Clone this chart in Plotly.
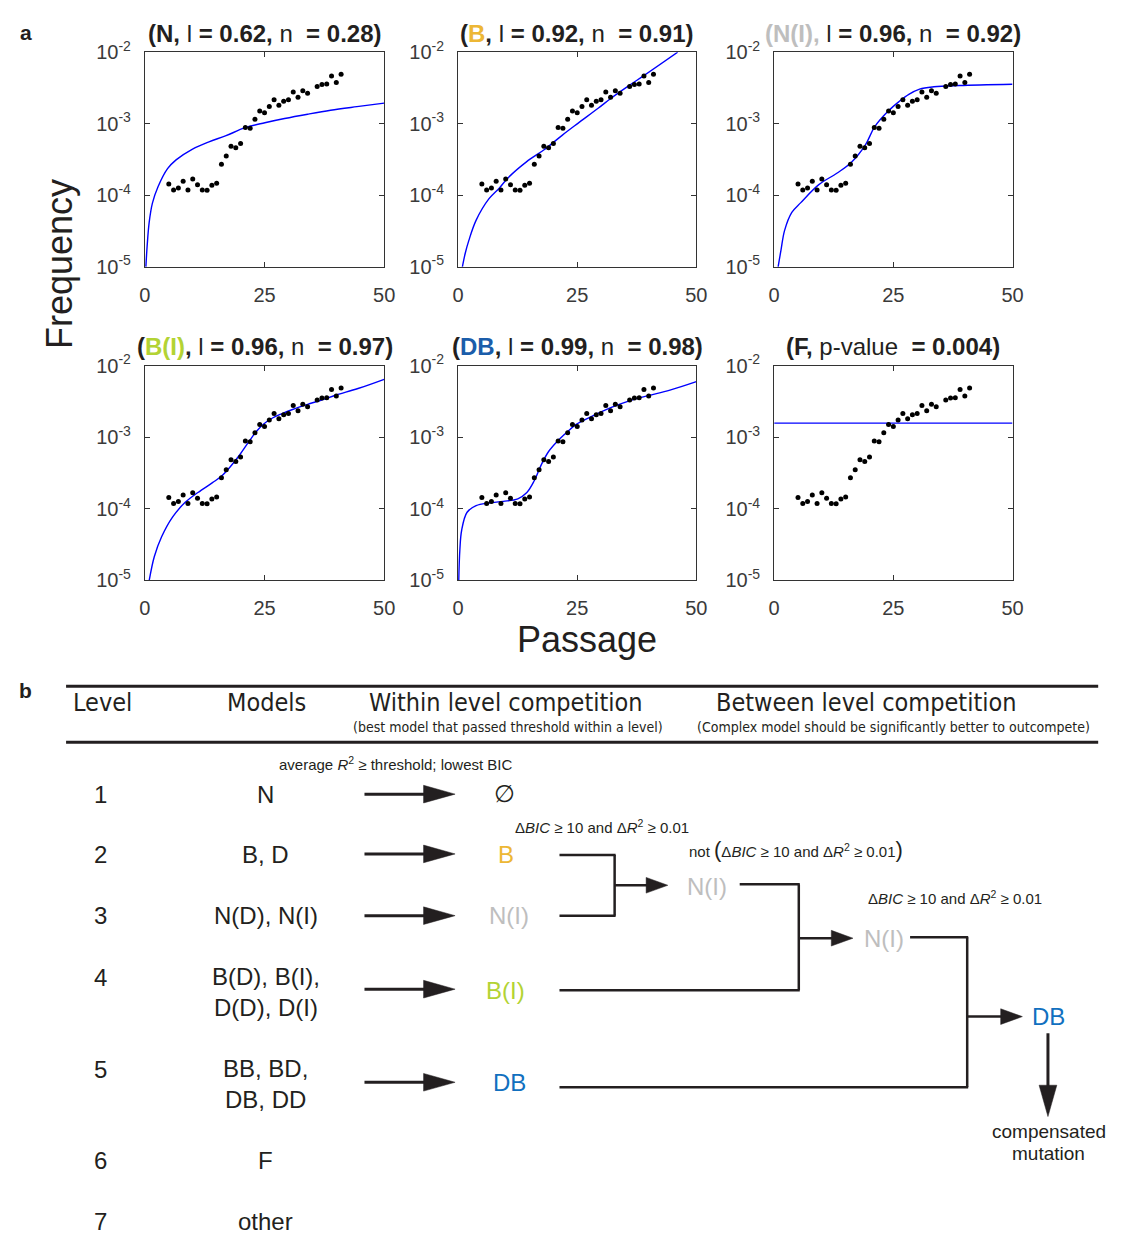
import plotly.graph_objects as go

W, H = 1121, 1254

# ---------------- data ----------------
passage = [5, 6, 7, 8, 9, 10, 11, 12, 13, 14, 15, 16, 17, 18, 19, 20, 21, 22, 23, 24,
           25, 26, 27, 28, 29, 30, 31, 32, 33, 34, 36, 37, 38, 39, 40, 41]
frequency = [1.44e-4, 1.19e-4, 1.27e-4, 1.57e-4, 1.19e-4, 1.69e-4, 1.41e-4, 1.19e-4,
             1.18e-4, 1.38e-4, 1.47e-4, 2.72e-4, 3.54e-4, 4.86e-4, 4.61e-4, 5.30e-4,
             8.89e-4, 8.69e-4, 1.16e-3, 1.51e-3, 1.42e-3, 1.75e-3, 2.16e-3, 1.82e-3,
             2.07e-3, 2.16e-3, 2.78e-3, 2.35e-3, 2.90e-3, 2.67e-3, 3.33e-3, 3.55e-3,
             3.59e-3, 4.67e-3, 3.78e-3, 4.92e-3]

# fitted model curves (passage, log10 frequency)
fit_N_x = [0.21, 0.48, 0.89, 1.58, 2.75, 4.74, 6.52, 9.96, 13.39, 16.83, 20.95, 25.07,
           29.19, 34.0, 38.8, 44.3, 50]
fit_N_log10 = [-5.0, -4.706, -4.385, -4.11, -3.881, -3.628, -3.505, -3.353, -3.252,
               -3.17, -3.055, -2.986, -2.927, -2.867, -2.812, -2.761, -2.711]
fit_B_x = [0.91, 1.51, 2.27, 3.78, 6.50, 8.69, 10.57, 14.35, 18.13, 21.9, 25.15, 29.46,
           32.1, 36.0, 39.05, 46.07]
fit_B_log10 = [-5.0, -4.81, -4.63, -4.35, -4.047, -3.897, -3.75, -3.532, -3.359, -3.158,
               -2.994, -2.78, -2.643, -2.46, -2.324, -2.0]
fit_NI_x = [0.83, 1.44, 2.19, 3.70, 5.59, 9.37, 13.14, 16.16, 19.18, 21.07, 24.09, 26.21,
            28.25, 30.51, 33.53, 38.82, 50]
fit_NI_log10 = [-5.0, -4.763, -4.49, -4.239, -4.102, -3.851, -3.692, -3.541, -3.29, -3.044,
                -2.812, -2.689, -2.588, -2.515, -2.483, -2.465, -2.447]
fit_BI_x = [0.91, 1.98, 3.50, 5.78, 8.43, 11.09, 14.13, 16.03, 17.93, 19.83, 21.73, 23.25,
            24.77, 26.67, 28.57, 30.85, 33.89, 36.93, 39.97, 44.53, 50]
fit_BI_log10 = [-5.0, -4.665, -4.39, -4.115, -3.908, -3.771, -3.633, -3.541, -3.404, -3.243,
                -3.06, -2.922, -2.817, -2.729, -2.67, -2.61, -2.541, -2.477, -2.408,
                -2.317, -2.188]
fit_DB_x = [0.15, 0.38, 0.76, 1.90, 3.80, 6.46, 9.50, 12.54, 14.44, 15.96, 17.48, 19.0,
            20.9, 22.8, 24.7, 27.74, 32.3, 36.09, 39.89, 44.45, 50]
fit_DB_log10 = [-5.0, -4.573, -4.298, -4.046, -3.954, -3.917, -3.894, -3.858, -3.771,
                -3.61, -3.381, -3.197, -3.05, -2.931, -2.821, -2.716, -2.578, -2.486,
                -2.417, -2.339, -2.22]
fit_F_x = [0, 50]
fit_F_log10 = [-2.80, -2.80]

y_tickvals = [1e-5, 1e-4, 1e-3, 1e-2]
y_ticktext = ["10<sup>-5</sup>", "10<sup>-4</sup>", "10<sup>-3</sup>", "10<sup>-2</sup>"]
x_tickvals = [0, 25, 50]

C_B = "#EDB735"
C_NI = "#BEBEBE"
C_BI = "#B3D334"
C_DB_T = "#1B5DAA"
C_DB = "#1170BF"
DARK = "#231F20"

panel_titles = [
    "<b>(N, </b>l<b> = 0.62, </b>n<b>&nbsp; = 0.28)</b>",
    "<b>(<span style='color:%s'>B</span>, </b>l<b> = 0.92, </b>n<b>&nbsp; = 0.91)</b>" % C_B,
    "<b><span style='color:%s'>(N(I),</span> </b>l<b> = 0.96, </b>n<b>&nbsp; = 0.92)</b>" % C_NI,
    "<b>(<span style='color:%s'>B(I)</span>, </b>l<b> = 0.96, </b>n<b>&nbsp; = 0.97)</b>" % C_BI,
    "<b>(<span style='color:%s'>DB</span>, </b>l<b> = 0.99, </b>n<b>&nbsp; = 0.98)</b>" % C_DB_T,
    "<b>(F, </b>p-value<b>&nbsp; = 0.004)</b>",
]

# part b text
levels = ["1", "2", "3", "4", "5", "6", "7"]
models = ["N", "B, D", "N(D), N(I)", "B(D), B(I),<br>D(D), D(I)", "BB, BD,<br>DB, DD", "F", "other"]
winners = ["∅", "B", "N(I)", "B(I)", "DB"]
winner_colors = [DARK, C_B, C_NI, C_BI, C_DB]


# ---------------- layout helpers ----------------
def px(x):
    return x / W


def py(y):
    return 1 - y / H


FONT = "Liberation Sans, Arial, Helvetica, sans-serif"
NARROW = "Liberation Sans Narrow, Arial Narrow, DejaVu Sans Condensed, sans-serif"

col_px = [(141, 384), (459, 701), (780, 1022)]
row_px = [(39, 258), (359, 578)]

fits = [(fit_N_x, fit_N_log10), (fit_B_x, fit_B_log10), (fit_NI_x, fit_NI_log10),
        (fit_BI_x, fit_BI_log10), (fit_DB_x, fit_DB_log10), (fit_F_x, fit_F_log10)]

fig = go.Figure()
layout = dict(
    width=W, height=H, autosize=False,
    margin=dict(l=0, r=0, t=0, b=0),
    paper_bgcolor="white", plot_bgcolor="white",
    showlegend=False,
    font=dict(family=FONT, color=DARK),
)
annotations = []
shapes = []

for i in range(6):
    r, c = divmod(i, 3)
    n = i + 1
    xs = "" if n == 1 else str(n)
    x0, x1 = col_px[c]
    y0, y1 = row_px[r]
    layout["xaxis" + xs] = dict(
        domain=[px(x0), px(x1)], anchor="y" + xs, range=[0, 50],
        tickvals=x_tickvals, ticks="inside", ticklen=5, tickcolor="#333",
        showline=True, linecolor="#333", linewidth=1, mirror="ticks",
        showgrid=False, zeroline=False,
        tickfont=dict(size=20, color="#3a3a3a", family=FONT),
        ticklabelstandoff=10,
    )
    layout["yaxis" + xs] = dict(
        domain=[py(y1), py(y0)], anchor="x" + xs, type="log", range=[-5, -2],
        tickvals=y_tickvals, ticktext=y_ticktext, ticks="inside", ticklen=5,
        tickcolor="#333", showline=True, linecolor="#333", linewidth=1, mirror="ticks",
        showgrid=False, zeroline=False,
        tickfont=dict(size=20, color="#3a3a3a", family=FONT),
        ticklabelstandoff=9,
    )
    fx, fl = fits[i]
    fig.add_trace(go.Scatter(
        x=fx, y=[10 ** v for v in fl], mode="lines",
        line=dict(color="#0000FF", width=1.4, shape="spline"),
        xaxis="x" + xs, yaxis="y" + xs, hoverinfo="skip"))
    fig.add_trace(go.Scatter(
        x=passage, y=frequency, mode="markers",
        marker=dict(color="black", size=5),
        xaxis="x" + xs, yaxis="y" + xs))
    ty = 20 if r == 0 else 339
    annotations.append(dict(
        text=panel_titles[i], x=px((x0 + x1) / 2), y=py(ty), xref="paper", yref="paper",
        showarrow=False, xanchor="center", yanchor="middle",
        font=dict(size=24, color=DARK, family=FONT)))

# axis titles and panel letters
annotations += [
    dict(text="Frequency", x=px(55), y=py(255), textangle=-90,
         font=dict(size=36, color=DARK, family=FONT)),
    dict(text="Passage", x=px(590), y=py(638), font=dict(size=36, color=DARK, family=FONT)),
    dict(text="<b>a</b>", x=px(20), y=py(19), font=dict(size=21, color=DARK, family=FONT)),
    dict(text="<b>b</b>", x=px(20), y=py(690), font=dict(size=21, color=DARK, family=FONT)),
]


# ---------------- part b ----------------
def line(xa, ya, xb, yb, w=2.5, color=DARK):
    shapes.append(dict(type="line", xref="paper", yref="paper",
                       x0=px(xa), y0=py(ya), x1=px(xb), y1=py(yb),
                       line=dict(color=color, width=w)))


def tri(pts):
    p = "M " + " L ".join("%.5f,%.5f" % (px(a), py(b)) for a, b in pts) + " Z"
    shapes.append(dict(type="path", xref="paper", yref="paper", path=p,
                       fillcolor=DARK, line=dict(color=DARK, width=0.5)))


def harrow(xa, xb, y, hl=32, hw=9, w=3):
    line(xa, y, xb - hl + 2, y, w)
    tri([(xb - hl, y - hw), (xb, y), (xb - hl, y + hw)])


def text(t, x, y, size, color=DARK, family=FONT):
    annotations.append(dict(text=t, x=px(x), y=py(y), font=dict(size=size, color=color,
                                                                 family=family)))


line(61, 686, 1109, 686, 3)
line(61, 743, 1109, 743, 3)
text("Level", 98, 703, 25, family=NARROW)
text("Models", 265, 703, 25, family=NARROW)
text("Within level competition", 508, 703, 25, family=NARROW)
text("Between level competition", 874, 703, 25, family=NARROW)
text("(best model that passed threshold within a level)", 510, 728, 14, family=NARROW)
text("(Complex model should be significantly better to outcompete)", 901, 728, 14,
     family=NARROW)

text("average <i>R</i><sup>2</sup> ≥ threshold; lowest BIC", 396, 765, 15)

level_y = [796, 858, 920, 998, 1092, 1170, 1232]
for lv, md, yy in zip(levels, models, level_y):
    text(lv, 96, yy if lv not in ("4", "5") else yy - 15, 24)
    text(md, 264, yy, 24)

arrow_y = [796, 857, 920, 995, 1090]
win_xy = [(506, 795), (508, 858), (511, 920), (507, 996), (511, 1090)]
for ay, wtxt, wc, (wx, wy) in zip(arrow_y, winners, winner_colors, win_xy):
    harrow(364, 456, ay)
    text(wtxt, wx, wy, 24, color=wc)

cond = "Δ<i>BIC</i> ≥ 10 and Δ<i>R</i><sup>2</sup> ≥ 0.01"
text(cond, 605, 829, 15)
text("not <span style='font-size:22px'>(</span>" + cond +
     "<span style='font-size:22px'>)</span>", 802, 853, 15)
text(cond, 964, 901, 15)

# bracket 1: B vs N(I)
line(562, 858, 619, 858)
line(618, 858, 618, 920)
line(562, 920, 619, 920)
harrow(618, 672, 889, hl=22, hw=8, w=2.5)
text("N(I)", 712, 890, 24, color=C_NI)
# bracket 2: N(I) vs B(I)
line(745, 888, 806, 888)
line(805, 888, 805, 996)
line(562, 996, 806, 996)
harrow(805, 860, 943, hl=22, hw=8, w=2.5)
text("N(I)", 892, 943, 24, color=C_NI)
# bracket 3: N(I) vs DB
line(918, 942, 977, 942)
line(976, 942, 976, 1095)
line(562, 1095, 977, 1095)
harrow(976, 1032, 1023, hl=22, hw=8, w=2.5)
text("DB", 1059, 1023, 24, color=C_DB)
# down arrow to compensated mutation
line(1058, 1040, 1058, 1095, 3)
tri([(1049, 1093), (1058, 1125), (1067, 1093)])
text("compensated", 1059, 1140, 19)
text("mutation", 1059, 1163, 19)

for a in annotations:
    a.setdefault("xref", "paper")
    a.setdefault("yref", "paper")
    a.setdefault("showarrow", False)
    a.setdefault("xanchor", "center")
    a.setdefault("yanchor", "middle")

layout["annotations"] = annotations
layout["shapes"] = shapes
fig.update_layout(**layout)
fig.write_html("out.html", config={"displayModeBar": False},
               post_script="document.body.style.margin='0';"
                           "document.body.style.overflow='hidden';")
